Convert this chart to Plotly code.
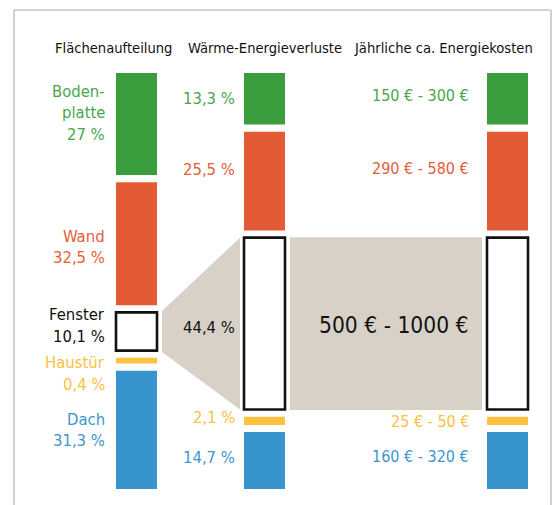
import plotly.graph_objects as go

# ---------------- data ----------------
categories = ["Bodenplatte", "Wand", "Fenster", "Haustür", "Dach"]
area_names = [["Boden-", "platte"], ["Wand"], ["Fenster"], ["Haustür"], ["Dach"]]
area_share = [27, 32.5, 10.1, 0.4, 31.3]          # Flächenaufteilung (%)
loss_share = [13.3, 25.5, 44.4, 2.1, 14.7]        # Wärme-Energieverluste (%)
cost_labels = ["150 € - 300 €", "290 € - 580 €", "500 € - 1000 €",
               "25 € - 50 €", "160 € - 320 €"]    # Jährliche ca. Energiekosten
column_titles = ["Flächenaufteilung", "Wärme-Energieverluste",
                 "Jährliche ca. Energiekosten"]

# ---------------- style ----------------
W, H = 554, 505
FONT = "DejaVu Sans Condensed, Liberation Sans Narrow, sans-serif"
bar_colors = ["#3a9e3f", "#e35b35", "#ffffff", "#fec240", "#3894cc"]
text_colors = ["#4aa64e", "#e35d3a", "#111111", "#fdc13f", "#3d96cf"]
grey = "#d7d1c8"
frame = "#c4c4c4"
col_x = [136.5, 264.5, 507.5]
bar_w = 41
K = 3.86            # px per unit on y
GAP_PX = 7.2
G = GAP_PX / K
STACK_TOP_PX, STACK_BOT_PX = 73, 489
MIN_VIS = 1.5
y_lo = -(H - STACK_BOT_PX) / K
y_hi = STACK_BOT_PX / K
total_units = (STACK_BOT_PX - STACK_TOP_PX) / K


def stack(values):
    disp = [max(v, MIN_VIS) for v in values]
    avail = total_units - G * (len(values) - 1)
    s = avail / sum(disp)
    top = total_units
    out = []
    for d in disp:
        h = d * s
        out.append((top - h, h))
        top -= h + G
    return out


def fmt(v):
    return (f"{v:g}".replace(".", ",")) + " %"


left = stack(area_share)
mid = stack(loss_share)
right = stack(loss_share)

fig = go.Figure()

# grey connectors (from the window bars)
px = 1 / K
lb, lh = left[2]
mb, mh = mid[2]
x1 = col_x[0] + bar_w / 2 + 5
x2 = col_x[1] - bar_w / 2 - 4
fig.add_trace(go.Scatter(
    x=[x1, x2, x2, x1], y=[lb + lh + 1.5 * px, mb + mh, mb, lb - 1.5 * px],
    fill="toself", fillcolor=grey, mode="lines", line=dict(width=0),
    hoverinfo="skip"))
x3 = col_x[1] + bar_w / 2 + 5
x4 = col_x[2] - bar_w / 2 - 5
fig.add_trace(go.Scatter(
    x=[x3, x4, x4, x3], y=[mb + mh + 0.5 * px, mb + mh + 0.5 * px, mb - 0.5 * px, mb - 0.5 * px],
    fill="toself", fillcolor=grey, mode="lines", line=dict(width=0),
    hoverinfo="skip"))

# bars
for ci, st in enumerate([left, mid, right]):
    for i, (base, h) in enumerate(st):
        is_win = i == 2
        fig.add_trace(go.Bar(
            x=[col_x[ci]], y=[h], base=[base], width=bar_w,
            marker=dict(color=bar_colors[i],
                        line=dict(color="#111111" if is_win else bar_colors[i],
                                  width=2.6 if is_win else 0)),
            hoverinfo="skip"))

ann = []


def add_text(x, y, text, color, size=16.5, yshift=0, xanchor="right"):
    ann.append(dict(x=x, y=y, xref="x", yref="y", text=text, showarrow=False,
                    xanchor=xanchor, yanchor="middle", yshift=yshift,
                    font=dict(family=FONT, size=size, color=color)))


# titles
for cx, t in zip([113.5, 265, 443.5], column_titles):
    ann.append(dict(x=cx, y=1 - 48 / H, xref="x", yref="paper", text=t,
                    showarrow=False, xanchor="center", yanchor="middle",
                    font=dict(family=FONT, size=14.6, color="#111111")))

# left labels: (offset of label centre from bar centre, px, positive down)
left_off = [-11.5, 3.5, -6, 13, 0]
LINE = 21.5
for i, (base, h) in enumerate(left):
    lines = area_names[i] + [fmt(area_share[i])]
    n = len(lines)
    c = base + h / 2
    for j, ln in enumerate(lines):
        dy = left_off[i] + (j - (n - 1) / 2) * LINE
        add_text(107, c, ln, text_colors[i], yshift=-dy)

mid_off = [-0.5, -12, 3.5, -3, -3.5]
for i, (base, h) in enumerate(mid):
    add_text(237, base + h / 2, fmt(loss_share[i]), text_colors[i], yshift=-mid_off[i])

right_off = [-3, -13, 1, 1, -4.5]
for i, (base, h) in enumerate(right):
    size = 22.6 if i == 2 else 16
    add_text(471, base + h / 2, cost_labels[i], text_colors[i], size=size,
             yshift=-right_off[i])

# frame lines
shapes = [
    dict(type="line", xref="x", yref="paper", x0=14, x1=14, y0=0, y1=1 - 10 / H,
         line=dict(color=frame, width=1.6)),
    dict(type="line", xref="x", yref="paper", x0=14, x1=551, y0=1 - 10 / H, y1=1 - 10 / H,
         line=dict(color=frame, width=1.6)),
    dict(type="line", xref="x", yref="paper", x0=551, x1=551, y0=0, y1=1 - 10 / H,
         line=dict(color=frame, width=1.6)),
]

fig.update_layout(
    width=W, height=H, margin=dict(l=0, r=0, t=0, b=0),
    paper_bgcolor="white", plot_bgcolor="white", showlegend=False,
    barmode="overlay", annotations=ann, shapes=shapes,
    xaxis=dict(range=[0, W], visible=False, fixedrange=True),
    yaxis=dict(range=[y_lo, y_hi], visible=False, fixedrange=True),
)
fig.write_html("out.html", config={"displayModeBar": False},
               post_script="document.body.style.margin='0';")
